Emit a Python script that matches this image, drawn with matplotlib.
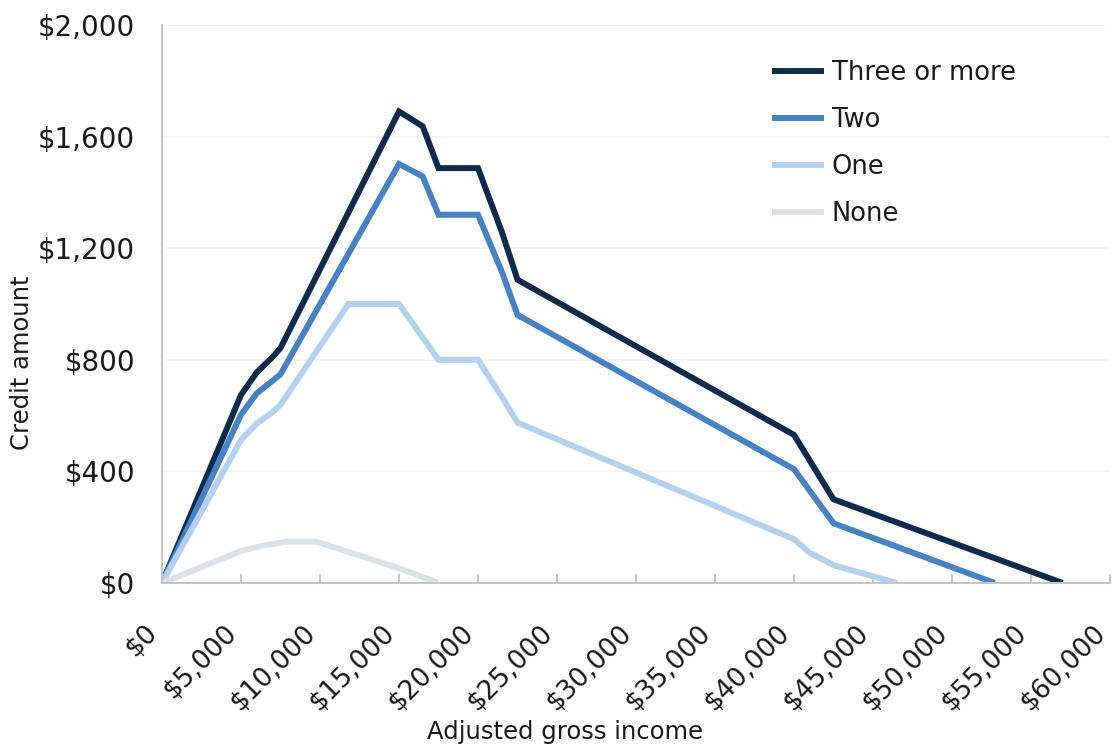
"""Credit amount by adjusted gross income, one line per number of children."""
import matplotlib.pyplot as plt
from matplotlib.ticker import FuncFormatter, MultipleLocator
from matplotlib.transforms import ScaledTranslation

plt.rcParams["font.family"] = ["DejaVu Sans"]

# Income breakpoints ($) and credit amounts ($) for each family size
THREE_X = [0, 5000, 6000, 7000, 7500, 15000, 16500, 17500, 20000, 21500, 22500,
           40000, 42500, 57000]
THREE_Y = [0, 674, 755, 810, 842, 1690, 1637, 1487, 1487, 1260, 1087,
           531, 300, 0]

TWO_X = [0, 5000, 6000, 7000, 7500, 15000, 16500, 17500, 20000, 21500, 22500,
         40000, 42500, 52700]
TWO_Y = [0, 603, 680, 725, 748, 1502, 1457, 1320, 1320, 1117, 961,
         408, 214, 0]

ONE_X = [0, 5000, 6000, 7000, 7500, 11800, 15000, 17500, 20000, 21500, 22500,
         40000, 41000, 42500, 46500]
ONE_Y = [0, 513, 572, 612, 639, 1000, 1000, 800, 800, 668, 575,
         157, 108, 64, 0]

NONE_X = [0, 5000, 6400, 7900, 9800, 15000, 17500]
NONE_Y = [0, 115, 134, 148, 148, 53, 0]

SERIES = [
    ("Three or more", THREE_X, THREE_Y, "#0e2b4e"),
    ("Two", TWO_X, TWO_Y, "#4682c4"),
    ("One", ONE_X, ONE_Y, "#b3d1ee"),
    ("None", NONE_X, NONE_Y, "#dce1e8"),
]

TEXT = "#1a1a1a"
AXIS_GREY = "#c6c6c6"
TICK_FS = 20

fig = plt.figure(figsize=(11.13, 7.47), dpi=100)
ax = fig.add_axes([162 / 1113, 1 - 583 / 747, (1110 - 162) / 1113, (583 - 25) / 747])

for label, xs, ys, color in SERIES:
    ax.plot(xs, ys, color=color, lw=4.3, label=label,
            solid_joinstyle="miter", solid_capstyle="butt")

ax.set_xlim(0, 60000)
ax.set_ylim(0, 2000)
ax.xaxis.set_major_locator(MultipleLocator(5000))
ax.yaxis.set_major_locator(MultipleLocator(400))
money = FuncFormatter(lambda v, _: f"${v:,.0f}")
ax.xaxis.set_major_formatter(money)
ax.yaxis.set_major_formatter(money)

ax.grid(axis="y", color="#f4f4f4", lw=1.2)
ax.set_axisbelow(True)
for side in ("top", "right"):
    ax.spines[side].set_visible(False)
for side in ("left", "bottom"):
    ax.spines[side].set_color(AXIS_GREY)
    ax.spines[side].set_linewidth(1.5)

ax.tick_params(axis="y", length=0, pad=19.5, labelsize=TICK_FS, labelcolor=TEXT)
ax.tick_params(axis="x", direction="in", length=6.5, width=1.5, color=AXIS_GREY,
               pad=33, labelsize=19, labelcolor=TEXT)
shift = ScaledTranslation(-8 / 100, 0, fig.dpi_scale_trans)
for lab in ax.get_xticklabels():
    lab.set_rotation(45)
    lab.set_ha("right")
    lab.set_va("center")
    lab.set_rotation_mode("anchor")
    lab.set_transform(lab.get_transform() + shift)

fig.text(565 / 1113, 1 - 732 / 747, "Adjusted gross income", ha="center", va="center",
         fontsize=17.5, color=TEXT)
fig.text(22 / 1113, 1 - 363 / 747, "Credit amount", ha="center", va="center",
         rotation=90, fontsize=17.5, color=TEXT)

ax.legend(loc="upper left", bbox_to_anchor=(749 / 1113, 1 - 37 / 747),
          bbox_transform=fig.transFigure, frameon=False, fontsize=18.5,
          handlelength=2.0, handletextpad=0.33, labelspacing=0.82,
          labelcolor=TEXT)

fig.savefig("out.png", dpi=100, facecolor="white")
